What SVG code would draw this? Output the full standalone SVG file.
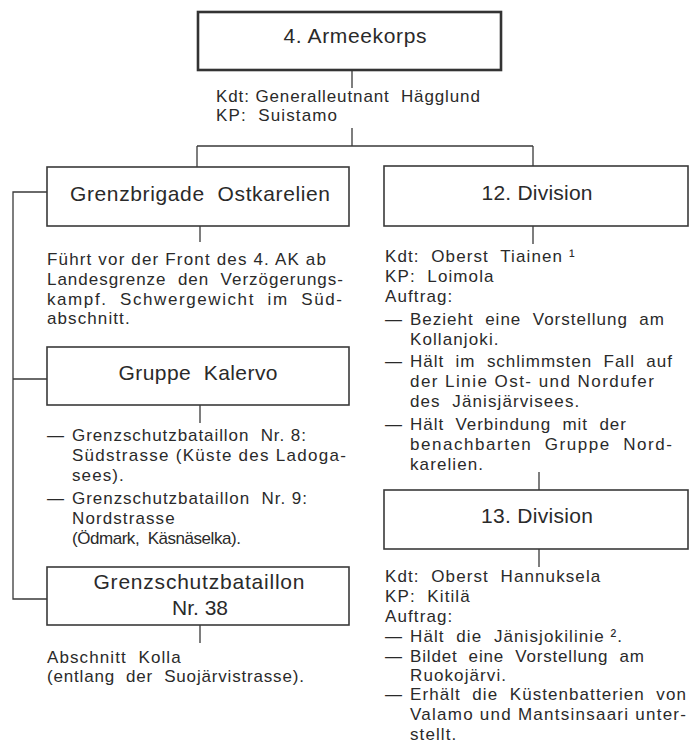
<svg xmlns="http://www.w3.org/2000/svg" width="691" height="747" viewBox="0 0 691 747">
<style>
  text { font-family: "Liberation Sans", Arial, sans-serif; fill: #2a2a2a; white-space: pre; }
  .t { font-size: 21px; text-anchor: middle; }
  .b { font-size: 17px; letter-spacing: 1.1px; }
  .box { fill: none; stroke: #3a3a3a; stroke-width: 1.6; }
  .top { fill: none; stroke: #333; stroke-width: 2.6; }
  .ln { fill: none; stroke: #3a3a3a; stroke-width: 1.3; }
</style>
<rect width="691" height="747" fill="#ffffff"/>

<g id="connectors">
  <path class="ln" d="M352 70V88M352 128V146M197 146H533M197 146V167M533 146V166"/>
  <path class="ln" d="M200 226V242M200 405V423M200 625V643"/>
  <path class="ln" d="M533 226V244M539 472V490M539 549V567"/>
  <path class="ln" d="M47 192H13V599H47M13 379H47"/>
</g>

<g id="armeekorps">
  <rect class="top" x="198" y="12" width="303" height="58"/>
  <text class="t" x="355" y="43" textLength="143" lengthAdjust="spacing">4. Armeekorps</text>
  <text class="b" x="216" y="102" textLength="265" lengthAdjust="spacing">Kdt: Generalleutnant  Hägglund</text>
  <text class="b" x="216" y="121">KP:  Suistamo</text>
</g>

<g id="grenzbrigade">
  <rect class="box" x="47" y="167" width="302" height="59"/>
  <text class="t" x="200" y="201" textLength="260" lengthAdjust="spacing">Grenzbrigade  Ostkarelien</text>
  <text class="b" x="47" y="265" textLength="280" lengthAdjust="spacing">Führt vor der Front des 4. AK ab</text>
  <text class="b" x="47" y="285" textLength="297" lengthAdjust="spacing">Landesgrenze  den  Verzögerungs-</text>
  <text class="b" x="47" y="305" textLength="296" lengthAdjust="spacing">kampf.  Schwergewicht  im  Süd-</text>
  <text class="b" x="47" y="324">abschnitt.</text>
</g>

<g id="kalervo">
  <rect class="box" x="47" y="347" width="302" height="58"/>
  <text class="t" x="198" y="380" textLength="159" lengthAdjust="spacing">Gruppe  Kalervo</text>
  <text class="b" x="47" y="441">—</text>
  <text class="b" x="72" y="441" textLength="235" lengthAdjust="spacing">Grenzschutzbataillon  Nr. 8:</text>
  <text class="b" x="72" y="461" textLength="275" lengthAdjust="spacing">Südstrasse (Küste des Ladoga-</text>
  <text class="b" x="72" y="481">sees).</text>
  <text class="b" x="47" y="504">—</text>
  <text class="b" x="72" y="504" textLength="236" lengthAdjust="spacing">Grenzschutzbataillon  Nr. 9:</text>
  <text class="b" x="72" y="524">Nordstrasse</text>
  <text class="b" x="72" y="544" textLength="170" lengthAdjust="spacing">(Ödmark,  Käsnäselka).</text>
</g>

<g id="gsb38">
  <rect class="box" x="47" y="567" width="302" height="58"/>
  <text class="t" x="199" y="589" textLength="211" lengthAdjust="spacing">Grenzschutzbataillon</text>
  <text class="t" x="200" y="615">Nr. 38</text>
  <text class="b" x="47" y="663">Abschnitt  Kolla</text>
  <text class="b" x="47" y="682" textLength="258" lengthAdjust="spacing">(entlang  der  Suojärvistrasse).</text>
</g>

<g id="div12">
  <rect class="box" x="384" y="166" width="304" height="60"/>
  <text class="t" x="537" y="200" textLength="111" lengthAdjust="spacing">12. Division</text>
  <text class="b" x="385" y="262">Kdt:  Oberst  Tiainen ¹</text>
  <text class="b" x="385" y="282">KP:  Loimola</text>
  <text class="b" x="385" y="302">Auftrag:</text>
  <text class="b" x="385" y="325">—</text>
  <text class="b" x="410" y="325" textLength="255" lengthAdjust="spacing">Bezieht  eine  Vorstellung  am</text>
  <text class="b" x="410" y="345">Kollanjoki.</text>
  <text class="b" x="385" y="367">—</text>
  <text class="b" x="410" y="367" textLength="263" lengthAdjust="spacing">Hält  im  schlimmsten  Fall  auf</text>
  <text class="b" x="410" y="387" textLength="245" lengthAdjust="spacing">der Linie Ost- und Nordufer</text>
  <text class="b" x="410" y="407">des  Jänisjärvisees.</text>
  <text class="b" x="385" y="430">—</text>
  <text class="b" x="410" y="430" textLength="217" lengthAdjust="spacing">Hält  Verbindung  mit  der</text>
  <text class="b" x="410" y="450" textLength="263" lengthAdjust="spacing">benachbarten  Gruppe  Nord-</text>
  <text class="b" x="410" y="470">karelien.</text>
</g>

<g id="div13">
  <rect class="box" x="384" y="490" width="304" height="59"/>
  <text class="t" x="537" y="523" textLength="112" lengthAdjust="spacing">13. Division</text>
  <text class="b" x="385" y="582">Kdt:  Oberst  Hannuksela</text>
  <text class="b" x="385" y="602">KP:  Kitilä</text>
  <text class="b" x="385" y="622">Auftrag:</text>
  <text class="b" x="385" y="642">—</text>
  <text class="b" x="410" y="642">Hält  die  Jänisjokilinie ².</text>
  <text class="b" x="385" y="662">—</text>
  <text class="b" x="410" y="662" textLength="235" lengthAdjust="spacing">Bildet  eine  Vorstellung  am</text>
  <text class="b" x="410" y="681">Ruokojärvi.</text>
  <text class="b" x="385" y="700">—</text>
  <text class="b" x="410" y="700" textLength="277" lengthAdjust="spacing">Erhält  die  Küstenbatterien  von</text>
  <text class="b" x="410" y="720" textLength="277" lengthAdjust="spacing">Valamo und Mantsinsaari unter-</text>
  <text class="b" x="410" y="740">stellt.</text>
</g>
</svg>
